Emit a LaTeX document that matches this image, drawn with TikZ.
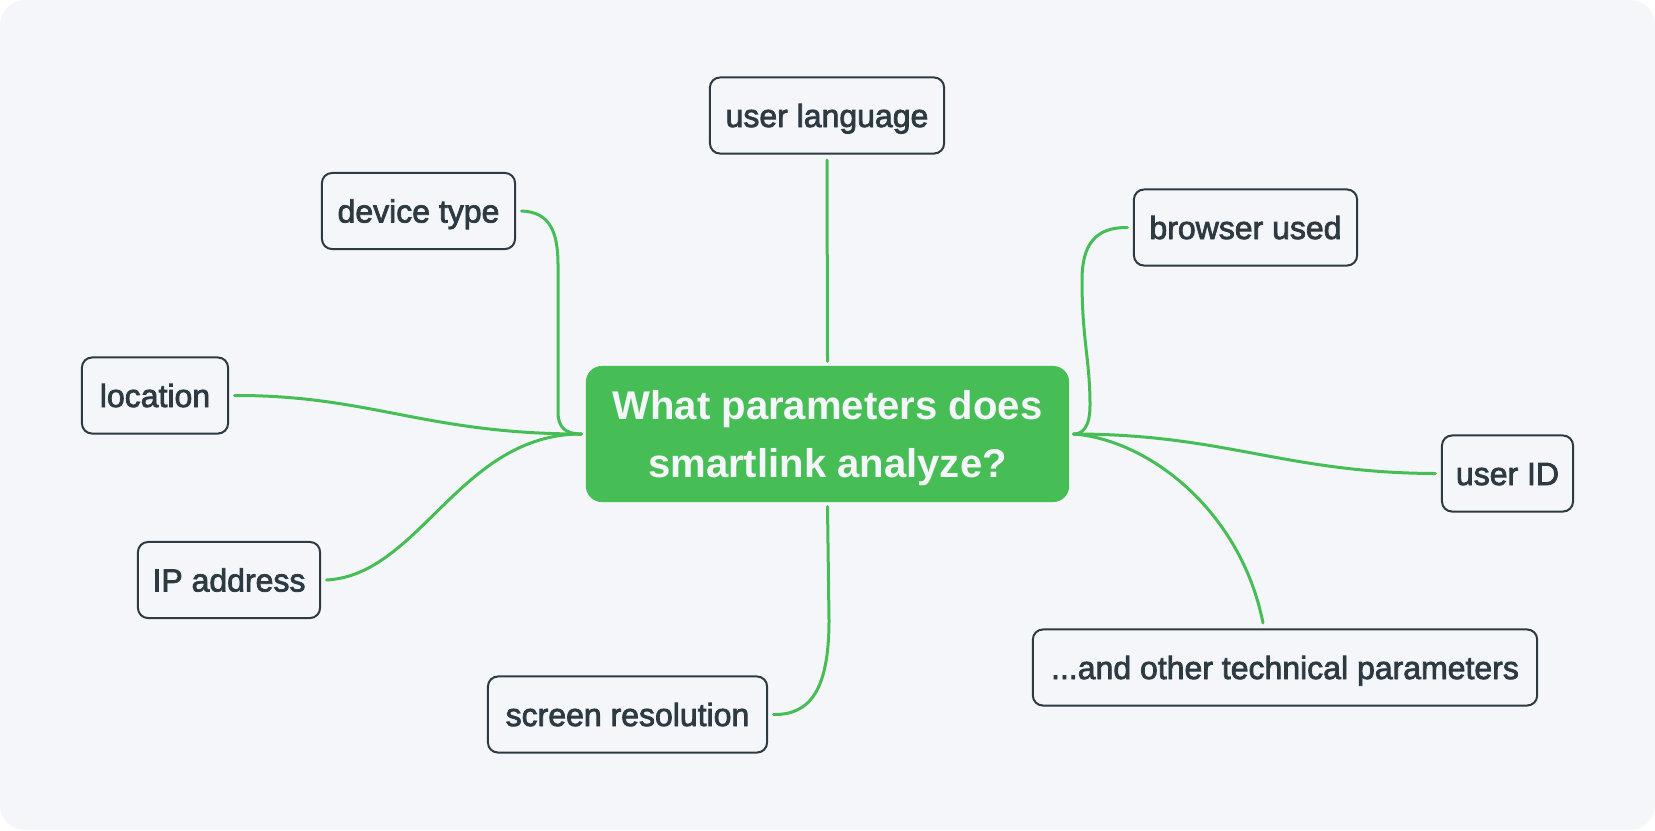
\documentclass[tikz,border=0pt]{standalone}
\usepackage{fontspec}
\setmainfont{Liberation Sans}
\newfontfamily\leaffont[FakeBold=2.4]{Liberation Sans}
\usepackage{xcolor}
\usetikzlibrary{positioning}
\definecolor{LinkGreen}{RGB}{70,190,85}
\definecolor{CardBg}{RGB}{244,246,250}
\definecolor{InkDark}{RGB}{45,58,66}
\tikzset{
  leaf/.style={draw=InkDark, line width=0.02cm, rounded corners=0.1cm,
    fill=CardBg, text=InkDark, minimum height=0.76cm, inner sep=0pt,
    text height=0.26cm, text depth=0.03cm,
    outer sep=0.065cm, font=\fontsize{9.1pt}{11pt}\leaffont},
  hub/.style={fill=LinkGreen, rounded corners=0.16cm, text=CardBg,
    minimum width=4.83cm, minimum height=1.36cm, inner sep=0pt,
    outer sep=0.045cm, align=center, text depth=0pt,
    font=\fontsize{11.4pt}{16.7pt}\selectfont\bfseries},
  link/.style={draw=LinkGreen, line width=0.03cm, line cap=round}
}

\begin{document}
\begin{tikzpicture}[x=0.01cm, y=-0.01cm]
\useasboundingbox (0,0) rectangle (1655,830);
\fill[white] (0,0) rectangle (1655,830);
\fill[CardBg, rounded corners=0.25cm] (0,0) rectangle (1655,830);

\node[hub] (topic) at (827.5,434) {What parameters does\\smartlink analyze?};

\node[leaf, minimum width=2.34cm] (lang) at (827,115.5) {user language};
\node[leaf, minimum width=1.93cm] (device) at (418.5,211) {device type};
\node[leaf, minimum width=2.23cm] (browser) at (1245.5,227.5) {browser used};
\node[leaf, minimum width=1.46cm] (location) at (155,395.5) {location};
\node[leaf, minimum width=1.31cm] (userid) at (1507.5,473.5) {user ID};
\node[leaf, minimum width=1.82cm] (ipaddr) at (229,580) {IP address};
\node[leaf, minimum width=2.79cm] (screen) at (627.5,714.5) {screen resolution};
\node[leaf, minimum width=5.04cm] (other) at (1285,667.5) {...and other technical parameters};

\draw[link] (lang.south) -- (topic.north);
\draw[link] (device.east) .. controls (550,212) and (558,232) .. (558,265)
  -- (558,412) .. controls (558,428) and (566,434) .. (topic.west);
\draw[link] (location.east) .. controls (370,395) and (425,434) .. (topic.west);
\draw[link] (ipaddr.east) .. controls (420,575) and (460,434) .. (topic.west);
\draw[link] (browser.west) .. controls (1095,227) and (1082,245) .. (1082,280)
  .. controls (1082,340) and (1090,360) .. (1090,405)
  .. controls (1090,428) and (1082,434) .. (topic.east);
\draw[link] (topic.east) .. controls (1225,434) and (1285,473) .. (userid.west);
\draw[link] (topic.east) .. controls (1150,440) and (1241,512) .. ([xshift=-0.22cm]other.north);
\draw[link] (topic.south) -- (829,620) .. controls (829,690) and (810,715) .. (screen.east);
\end{tikzpicture}
\end{document}
